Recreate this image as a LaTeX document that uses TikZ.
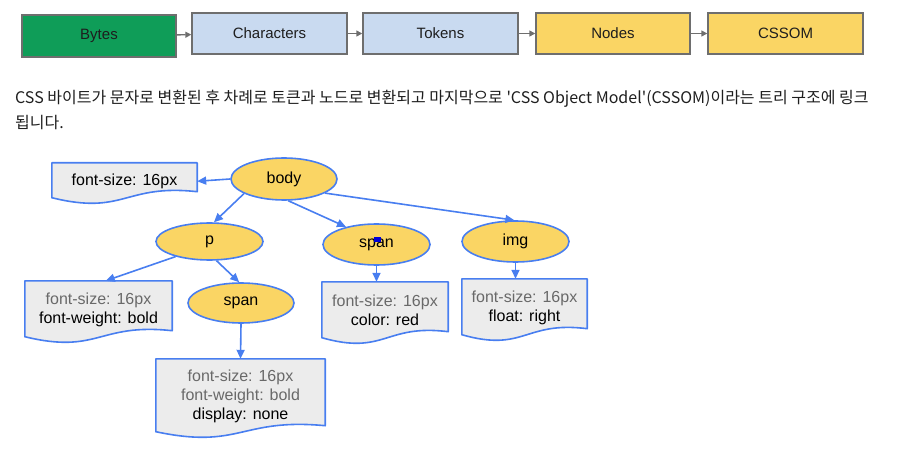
\documentclass[tikz,border=0pt]{standalone}
\usepackage{fontspec}
\setmainfont{Liberation Sans}
\newfontfamily\kofont{Noto Sans CJK KR}
\usetikzlibrary{shapes.geometric,arrows.meta,backgrounds}

\definecolor{bytegreen}{RGB}{15,157,88}
\definecolor{charblue}{RGB}{201,218,240}
\definecolor{nodeyellow}{RGB}{250,213,100}
\definecolor{flowgray}{RGB}{110,110,110}
\definecolor{treeblue}{RGB}{72,126,240}
\definecolor{boxgray}{RGB}{236,236,236}
\definecolor{textgray}{RGB}{105,105,105}
\definecolor{inkdark}{RGB}{30,30,30}

% wavy "document" outline behind a rule node
\newcommand{\docshape}[1]{%
  \begin{pgfonlayer}{background}
    \draw[docline] (#1.north west) -- (#1.north east) -- ([yshift=8pt]#1.south east)
      .. controls ([yshift=16pt]#1.south) and ([yshift=-16pt]#1.south) .. ([yshift=2pt]#1.south west) -- cycle;
  \end{pgfonlayer}}

\begin{document}
\begin{tikzpicture}[x=1pt,y=-1pt,
    stage/.style={rectangle, draw=flowgray, line width=1.4pt, minimum height=41pt,
      minimum width=155pt, inner sep=0pt, text=inkdark, font=\fontsize{15}{18}\selectfont},
    flowarrow/.style={flowgray, line width=1.4pt, -{Triangle[length=6pt,width=6pt]}},
    elem/.style={ellipse, draw=treeblue, fill=nodeyellow, line width=1.6pt, inner sep=0pt,
      minimum width=107pt, minimum height=41pt, font=\fontsize{16}{19}\selectfont},
    rule/.style={rectangle, inner sep=0pt, align=center, font=\fontsize{16}{19}\selectfont},
    docline/.style={draw=treeblue, fill=boxgray, line width=1.6pt, line join=round},
    treearrow/.style={treeblue, line width=1.6pt, -{Triangle[length=9pt,width=8pt]}}]
  \useasboundingbox (0,0) rectangle (899,449);

  % Pipeline
  \node[stage, fill=bytegreen, minimum width=154pt, minimum height=42pt] (bytes) at (99,36) {Bytes};
  \node[stage, fill=charblue] (chars) at (269.5,33.5) {Characters};
  \node[stage, fill=charblue] (tokens) at (440.5,33.5) {Tokens};
  \node[stage, fill=nodeyellow, minimum width=154pt] (nodes) at (613,33.5) {Nodes};
  \node[stage, fill=nodeyellow] (cssom) at (785.5,33.5) {CSSOM};
  \draw[flowarrow] (bytes) -- (chars);
  \draw[flowarrow] (chars) -- (tokens);
  \draw[flowarrow] (tokens) -- (nodes);
  \draw[flowarrow] (nodes) -- (cssom);

  % Caption
  \node[anchor=west, align=left, inner sep=0pt, text=inkdark,
    font=\kofont\fontsize{16}{25}\selectfont] (caption) at (15,109.5)
    {CSS 바이트가 문자로 변환된 후 차례로 토큰과 노드로 변환되고 마지막으로 'CSS Object Model'(CSSOM)이라는 트리 구조에 링크\\됩니다.};

  % Tree
  \node[elem, minimum width=106pt, minimum height=42pt] (body) at (284,179) {body};
  \node[elem, minimum height=37pt] (p) at (209.5,241.5) {p};
  \node[elem, minimum width=106pt, minimum height=40pt] (spanA) at (241,303) {span};
  \node[elem] (spanB) at (376.5,244.5) {span};
  \node[elem] (img) at (515.5,241.5) {img};
  \fill[blue!85!black] (374,237) rectangle (381,242);

  % Rules
  \node[rule, minimum width=145pt, minimum height=36.5pt] (bodyrule) at (124.5,181.25) {font-size: 16px};
  \node[rule, minimum width=147pt, minimum height=57.5pt] (prule) at (98.5,309.75)
    {\textcolor{textgray}{font-size: 16px}\\font-weight: bold};
  \node[rule, minimum width=169pt, minimum height=74.5pt] (spanArule) at (240.5,396.25)
    {\textcolor{textgray}{font-size: 16px}\\\textcolor{textgray}{font-weight: bold}\\display: none};
  \node[rule, minimum width=126pt, minimum height=57.5pt] (spanBrule) at (385,310.75)
    {\textcolor{textgray}{font-size: 16px}\\color: red};
  \node[rule, minimum width=125pt, minimum height=57.5pt] (imgrule) at (524.5,307.75)
    {\textcolor{textgray}{font-size: 16px}\\float: right};
  \docshape{bodyrule}
  \docshape{prule}
  \docshape{spanArule}
  \docshape{spanBrule}
  \docshape{imgrule}

  % Links
  \draw[treearrow] (body.west) -- (bodyrule.east);
  \draw[treearrow] (body.200) -- (p.77);
  \draw[treearrow] (body.-79) -- (spanB.150);
  \draw[treearrow] (body.-19) -- (img.93);
  \draw[treearrow] (p.204) -- (prule.76);
  \draw[treearrow] (p.-70) -- (spanA.95);
  \draw[treearrow] (spanA.south) -- (spanArule.north);
  \draw[treearrow] (spanB.south) -- (spanB.south |- spanBrule.north);
  \draw[treearrow] (img.south) -- (img.south |- imgrule.north);
\end{tikzpicture}
\end{document}
